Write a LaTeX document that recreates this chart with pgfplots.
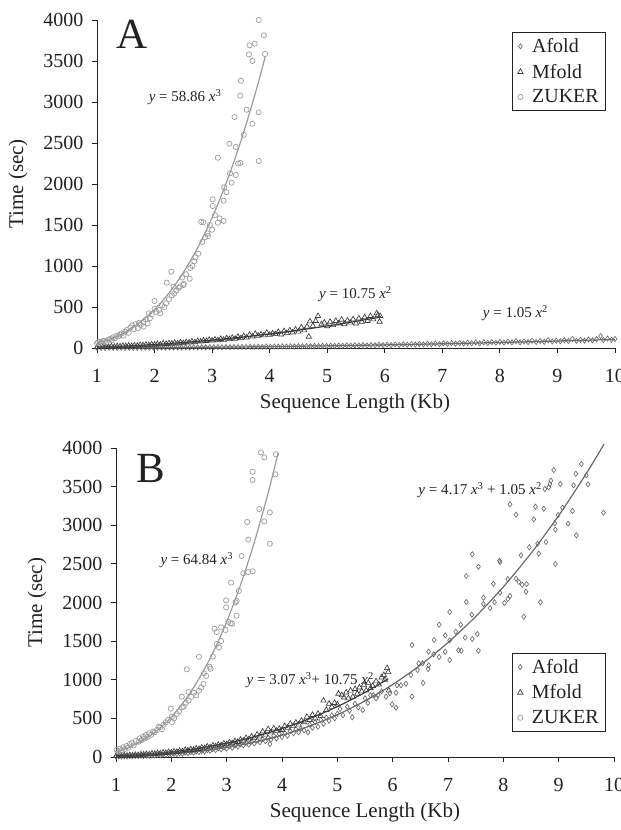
\documentclass[border=0pt]{standalone}
\usepackage{fontspec}
\setmainfont{Liberation Serif}
\usepackage{pgfplots}
\pgfplotsset{compat=1.18}
\usepackage{pgfplotstable}

\definecolor{zk}{HTML}{9C9C9C}
\definecolor{mf}{HTML}{3C3C3C}
\definecolor{af}{HTML}{6A6A6A}
\definecolor{ax}{HTML}{222222}

\pgfplotsset{
  panel/.style={
    scale only axis,
    axis lines=left,
    axis line style={-, ax, line width=0.9pt},
    xmin=1, xmax=10, ymin=0, ymax=4000,
    xtick={1,2,...,10}, ytick={0,500,...,4000},
    tick align=outside, major tick length=5pt,
    tick style={ax, line width=0.9pt},
    ticklabel style={font=\fontsize{20}{22}\selectfont, text=ax},
    xticklabel style={yshift=-13pt},
    yticklabel style={xshift=-5pt},
    /pgf/number format/assume math mode=true,
    /pgf/number format/1000 sep={},
    clip=false,
    label style={font=\fontsize{21}{23}\selectfont, text=ax},
    legend cell align=left,
    legend style={draw=ax, line width=0.8pt, font=\fontsize{20}{22}\selectfont,
      inner xsep=5pt, inner ysep=4pt, row sep=6pt, text=ax,
      /tikz/every odd column/.append style={column sep=7pt}},
  },
  af/.style={only marks, mark=diamond, mark size=2.6pt, color=af, mark options={line width=0.65pt, solid, fill=none}},
  mf/.style={only marks, mark=triangle, mark size=3.1pt, color=mf, mark options={line width=0.65pt, solid, fill=none}},
  zk/.style={only marks, mark=o, mark size=2.6pt, color=zk, mark options={line width=0.7pt, solid, fill=none}},
}
\newcommand{\eqfont}{\fontsize{15}{15}\selectfont}

\begin{document}
\begin{tikzpicture}
\path[use as bounding box] (0pt,0pt) rectangle (621pt,830pt);

% ---------------- Panel A ----------------
\begin{axis}[panel, width=518pt, height=328pt, at={(97pt,482pt)}, anchor=south west,
  xlabel={Sequence Length (Kb)}, ylabel={Time (sec)},
  xlabel style={at={(axis description cs:0.498,-0.168)}, anchor=center},
  ylabel style={at={(axis description cs:-0.1525,0.5)}, anchor=center, rotate=0},
  legend style={at={(axis description cs:0.983,0.963)}, anchor=north east},
]
\addplot[af] table {
1.00 1
1.07 2
1.14 1
1.21 2
1.28 2
1.35 1
1.42 3
1.49 2
1.56 3
1.63 2
1.70 4
1.77 3
1.84 4
1.91 3
1.98 5
2.05 4
2.12 6
2.19 4
2.26 6
2.33 5
2.40 7
2.47 6
2.54 8
2.61 6
2.68 9
2.75 7
2.82 9
2.89 8
2.96 10
3.03 9
3.10 11
3.17 9
3.24 12
3.31 10
3.38 13
3.45 11
3.52 14
3.59 12
3.66 15
3.73 13
3.80 16
3.87 14
3.94 18
4.01 15
4.08 19
4.15 17
4.22 20
4.29 18
4.36 21
4.43 19
4.50 23
4.57 20
4.64 24
4.71 22
4.78 26
4.85 23
4.92 27
4.99 24
5.06 29
5.13 26
5.20 30
5.27 27
5.34 32
5.41 28
5.48 34
5.55 30
5.62 36
5.69 31
5.76 37
5.83 33
5.90 40
5.97 35
6.04 41
6.11 36
6.18 43
6.25 38
6.32 45
6.39 40
6.46 47
6.53 42
6.60 50
6.67 44
6.74 52
6.81 46
6.88 55
6.95 48
7.02 57
7.09 50
7.16 60
7.23 52
7.30 62
7.37 54
7.44 65
7.51 57
7.58 68
7.65 58
7.72 70
7.79 61
7.86 72
7.93 63
8.00 75
8.07 66
8.14 78
8.21 69
8.28 85
8.35 70
8.42 80
8.49 72
8.56 90
8.63 74
8.70 86
8.77 76
8.84 95
8.91 80
8.98 88
9.05 82
9.12 96
9.19 85
9.26 110
9.33 88
9.40 100
9.47 90
9.54 104
9.61 94
9.68 108
9.75 146
9.80 98
9.87 115
9.94 102
10.00 110
};
\addlegendentry{Afold}
\addplot[mf] table {
1.00 8
1.05 14
1.10 11
1.15 16
1.20 13
1.25 19
1.30 15
1.35 22
1.40 20
1.45 25
1.50 22
1.55 28
1.60 24
1.65 32
1.70 27
1.75 36
1.80 33
1.85 40
1.90 34
1.95 44
2.00 40
2.05 48
2.10 42
2.15 55
2.20 50
2.25 58
2.30 52
2.35 63
2.40 56
2.45 68
2.50 60
2.55 72
2.60 66
2.65 80
2.70 70
2.75 84
2.80 78
2.85 92
2.90 85
2.95 100
3.00 90
3.05 104
3.10 95
3.15 110
3.20 100
3.25 118
3.30 108
3.35 125
3.40 112
3.45 135
3.50 120
3.55 145
3.60 128
3.65 160
3.70 140
3.75 172
3.80 150
3.85 165
3.90 155
3.95 185
4.00 160
4.05 178
4.10 170
4.15 195
4.20 165
4.25 205
4.30 180
4.35 215
4.40 190
4.45 225
4.50 200
4.55 250
4.60 215
4.65 260
4.68 138
4.70 325
4.75 270
4.80 330
4.84 390
4.90 290
4.95 310
5.00 265
5.05 320
5.10 280
5.15 330
5.20 300
5.25 345
5.30 290
5.35 335
5.40 310
5.45 350
5.50 300
5.55 360
5.60 320
5.65 375
5.70 330
5.75 390
5.80 350
5.86 423
5.88 400
5.91 321
5.92 390
};
\addlegendentry{Mfold}
\addplot[zk] table {
1.00 57
1.02 70
1.05 77
1.08 62
1.10 85
1.14 89
1.17 75
1.20 102
1.23 110
1.26 95
1.28 130
1.31 118
1.34 150
1.37 140
1.40 165
1.43 179
1.46 150
1.49 200
1.52 220
1.55 185
1.58 250
1.61 277
1.64 230
1.67 290
1.71 240
1.73 305
1.76 280
1.81 321
1.81 260
1.85 350
1.88 300
1.90 423
1.92 362
1.95 410
2.00 476
2.00 573
2.03 440
2.08 463
2.10 423
2.13 520
2.17 500
2.20 545
2.21 797
2.25 593
2.29 931
2.30 640
2.33 748
2.34 663
2.38 700
2.42 732
2.44 752
2.48 860
2.50 768
2.51 784
2.55 900
2.61 845
2.62 976
2.66 1000
2.69 1057
2.71 1106
2.76 1150
2.81 1537
2.83 1293
2.85 1533
2.88 1350
2.92 1398
2.93 1366
2.96 1500
3.00 1443
3.01 1813
3.01 1732
3.05 1620
3.10 1528
3.10 2321
3.13 1581
3.20 1549
3.20 1796
3.21 1960
3.25 1900
3.30 2491
3.31 2130
3.34 2016
3.39 2817
3.41 2451
3.41 2110
3.45 2250
3.49 3077
3.49 2256
3.50 3260
3.55 2600
3.60 2906
3.64 3581
3.65 3691
3.70 3500
3.70 2735
3.74 3711
3.81 4000
3.81 2874
3.81 2280
3.90 3813
3.92 3585
};
\addlegendentry{ZUKER}
% fitted curves
\addplot[forget plot, smooth, color=af, line width=1.2pt] coordinates {
(1,1.05) (2,4.2) (3,9.45) (4,16.8) (5,26.25) (6,37.8) (7,51.45) (8,67.2) (9,85.05) (10,105)};
\addplot[forget plot, smooth, color=mf, line width=1.2pt] coordinates {
(1,10.75) (1.5,24.19) (2,43) (2.5,67.19) (3,96.75) (3.5,131.69) (4,172) (4.5,217.69) (5,268.75) (5.5,325.19) (5.92,376.75)};
\addplot[forget plot, smooth, color=zk, line width=1.2pt] coordinates {
(1,58.86) (1.25,114.96) (1.5,198.65) (1.75,315.45) (2,470.88) (2.25,670.5) (2.5,919.7) (2.75,1224.1) (3,1589.2) (3.25,2020.6) (3.5,2523.6) (3.75,3103.8) (3.92,3545.6)};
\node[font=\fontsize{43}{43}\selectfont, text=ax] at (axis cs:1.61,3829) {A};
\node[font=\eqfont, text=ax] at (axis cs:2.53,3061) {\textit{y} = 58.86 \textit{x}\textsuperscript{3}};
\node[font=\eqfont, text=ax] at (axis cs:5.49,659) {\textit{y} = 10.75 \textit{x}\textsuperscript{2}};
\node[font=\eqfont, text=ax] at (axis cs:8.27,427) {\textit{y} = 1.05 \textit{x}\textsuperscript{2}};
\end{axis}

% ---------------- Panel B ----------------
\begin{axis}[panel, width=498pt, height=309pt, at={(116pt,73pt)}, anchor=south west,
  xlabel={Sequence Length (Kb)}, ylabel={Time (sec)},
  xlabel style={at={(axis description cs:0.5,-0.178)}, anchor=center},
  ylabel style={at={(axis description cs:-0.1586,0.5)}, anchor=center, rotate=0},
  legend style={at={(axis description cs:0.984,0.337)}, anchor=north east},
]
\addplot[af] table {
1.00 4
1.05 7
1.10 5
1.15 8
1.20 7
1.25 11
1.30 9
1.35 13
1.40 12
1.45 16
1.50 14
1.55 19
1.60 17
1.65 22
1.70 20
1.75 27
1.80 24
1.85 31
1.90 28
1.95 36
2.00 33
2.05 42
2.10 38
2.15 48
2.20 43
2.25 56
2.30 50
2.35 63
2.40 57
2.45 72
2.50 64
2.55 80
2.60 72
2.65 90
2.70 80
2.75 102
2.80 90
2.85 112
2.90 100
2.95 125
3.00 110
3.05 140
3.10 120
3.15 150
3.20 135
3.25 165
3.30 150
3.35 185
3.40 160
3.45 200
3.50 175
3.55 215
3.60 190
3.65 230
3.70 205
3.75 250
3.78 168
3.80 225
3.85 275
3.90 240
3.95 300
4.00 260
4.05 310
4.10 275
4.15 335
4.21 307
4.25 360
4.30 320
4.34 366
4.40 345
4.47 320
4.50 420
4.55 380
4.60 450
4.65 392
4.70 480
4.75 430
4.80 510
4.85 470
4.90 540
4.95 500
5.00 560
5.05 621
5.10 540
5.18 651
5.22 600
5.27 514
5.32 690
5.38 640
5.46 608
5.50 760
5.55 700
5.60 800
5.65 803
5.70 760
5.74 803
5.80 850
5.88 781
5.95 825
5.99 682
6.06 638
6.06 832
6.08 928
6.15 928
6.24 949
6.33 1061
6.35 781
6.35 1450
6.45 1126
6.47 1213
6.54 1213
6.55 958
6.64 1139
6.65 1187
6.65 1363
6.74 1329
6.75 1515
6.84 1294
6.84 1713
6.95 1363
6.95 1575
7.03 1256
7.03 1510
7.03 1877
7.14 1622
7.19 1381
7.23 1713
7.24 1376
7.31 1544
7.33 2006
7.33 2343
7.43 1842
7.44 1528
7.44 2624
7.53 1592
7.55 1376
7.55 2463
7.64 1981
7.64 2062
7.76 1929
7.82 2243
7.84 2003
7.93 2541
7.94 2524
7.94 2127
8.02 1994
8.08 2045
8.08 2304
8.12 2084
8.12 3271
8.23 3137
8.23 2308
8.28 2265
8.32 2611
8.34 2230
8.37 1816
8.41 2140
8.42 2239
8.47 2715
8.55 3077
8.58 3240
8.62 2761
8.64 2632
8.67 2003
8.73 3214
8.75 3469
8.77 2783
8.82 3491
8.84 3534
8.86 3577
8.91 3715
8.93 3025
8.94 2943
8.94 2498
8.99 3133
9.03 3534
9.07 3227
9.17 3020
9.25 3185
9.27 3517
9.31 3667
9.32 2870
9.41 3793
9.50 3646
9.53 3530
9.81 3163
};
\addlegendentry{Afold}
\addplot[mf] table {
1.00 12
1.05 16
1.10 14
1.15 20
1.20 17
1.25 24
1.30 21
1.35 28
1.40 25
1.45 33
1.50 30
1.55 38
1.60 34
1.65 44
1.70 40
1.75 50
1.80 46
1.85 56
1.90 52
1.95 64
2.00 60
2.05 72
2.10 66
2.15 80
2.20 74
2.25 92
2.30 84
2.35 100
2.40 92
2.45 110
2.50 104
2.55 122
2.60 112
2.65 135
2.70 125
2.75 148
2.80 138
2.85 160
2.90 150
2.95 175
3.00 165
3.05 190
3.10 178
3.15 205
3.20 195
3.25 225
3.30 210
3.35 245
3.40 228
3.45 265
3.50 245
3.55 290
3.60 268
3.65 330
3.70 290
3.75 360
3.80 320
3.85 370
3.90 340
3.95 365
4.00 350
4.05 400
4.10 380
4.15 430
4.20 400
4.25 445
4.30 420
4.35 470
4.40 450
4.45 520
4.50 480
4.55 545
4.60 500
4.65 560
4.70 530
4.75 730
4.80 610
4.85 690
4.90 650
4.95 700
5.00 680
5.02 820
5.08 800
5.12 770
5.16 835
5.20 760
5.24 860
5.28 780
5.32 880
5.36 820
5.40 900
5.44 850
5.48 930
5.52 860
5.56 960
5.60 890
5.64 920
5.70 980
5.75 940
5.80 1030
5.84 1060
5.86 1000
5.90 1150
5.92 1100
5.93 860
};
\addlegendentry{Mfold}
\addplot[zk] table {
1.01 91
1.04 70
1.07 107
1.10 85
1.13 126
1.16 100
1.19 142
1.22 120
1.25 168
1.29 185
1.32 150
1.36 210
1.41 198
1.43 242
1.46 220
1.49 263
1.52 240
1.54 285
1.57 260
1.60 307
1.64 290
1.67 328
1.70 320
1.74 350
1.77 390
1.80 384
1.83 360
1.86 418
1.90 450
1.94 480
1.99 625
2.01 453
2.01 522
2.05 500
2.10 557
2.14 590
2.19 643
2.19 781
2.22 651
2.26 700
2.28 1135
2.31 729
2.31 841
2.36 780
2.41 832
2.45 799
2.50 858
2.50 1298
2.54 900
2.58 945
2.59 1083
2.63 1050
2.69 1169
2.71 1143
2.75 1300
2.78 1661
2.82 1618
2.82 1463
2.86 1420
2.90 1679
2.90 1502
2.98 1644
2.99 2028
2.99 1938
3.03 1750
3.07 1731
3.08 2257
3.10 1726
3.16 2002
3.18 2019
3.18 1829
3.22 2150
3.27 2602
3.30 2378
3.37 3042
3.39 2813
3.39 2395
3.47 2404
3.47 3693
3.47 3586
3.59 3210
3.62 3944
3.68 3879
3.68 3051
3.78 3167
3.78 2761
3.88 3659
3.89 3918
};
\addlegendentry{ZUKER}
\addplot[forget plot, smooth, color=af, line width=1.2pt] coordinates {
(1,5.22) (1.5,16.44) (2,37.56) (2.5,71.72) (3,122.04) (3.5,191.65) (4,283.68) (4.5,401.26) (5,547.5) (5.5,725.54) (6,938.52) (6.5,1189.6) (7,1481.8) (7.5,1818.3) (8,2202.2) (8.5,2636.9) (9,3125.0) (9.5,3670.0) (9.82,4050)};
\addplot[forget plot, smooth, color=mf, line width=1.2pt] coordinates {
(1,13.82) (1.5,34.55) (2,67.56) (2.5,115.16) (3,179.64) (3.5,263.32) (4,368.48) (4.5,497.44) (5,652.5) (5.5,835.96) (5.92,1013.7)};
\addplot[forget plot, smooth, color=zk, line width=1.2pt] coordinates {
(1,64.84) (1.25,126.6) (1.5,218.8) (1.75,347.5) (2,518.7) (2.25,738.6) (2.5,1013.1) (2.75,1348.5) (3,1750.7) (3.25,2226.0) (3.5,2780.0) (3.75,3419.5) (3.93,3935.7)};
\node[font=\fontsize{43}{43}\selectfont, text=ax] at (axis cs:1.63,3741) {B};
\node[font=\eqfont, text=ax] at (axis cs:2.46,2552) {\textit{y} = 64.84 \textit{x}\textsuperscript{3}};
\node[font=\eqfont, text=ax] at (axis cs:7.58,3459) {\textit{y} = 4.17 \textit{x}\textsuperscript{3} + 1.05 \textit{x}\textsuperscript{2}};
\node[font=\eqfont, text=ax] at (axis cs:4.51,997) {\textit{y} = 3.07 \textit{x}\textsuperscript{3}+ 10.75 \textit{x}\textsuperscript{2}};
\end{axis}
\end{tikzpicture}
\end{document}
